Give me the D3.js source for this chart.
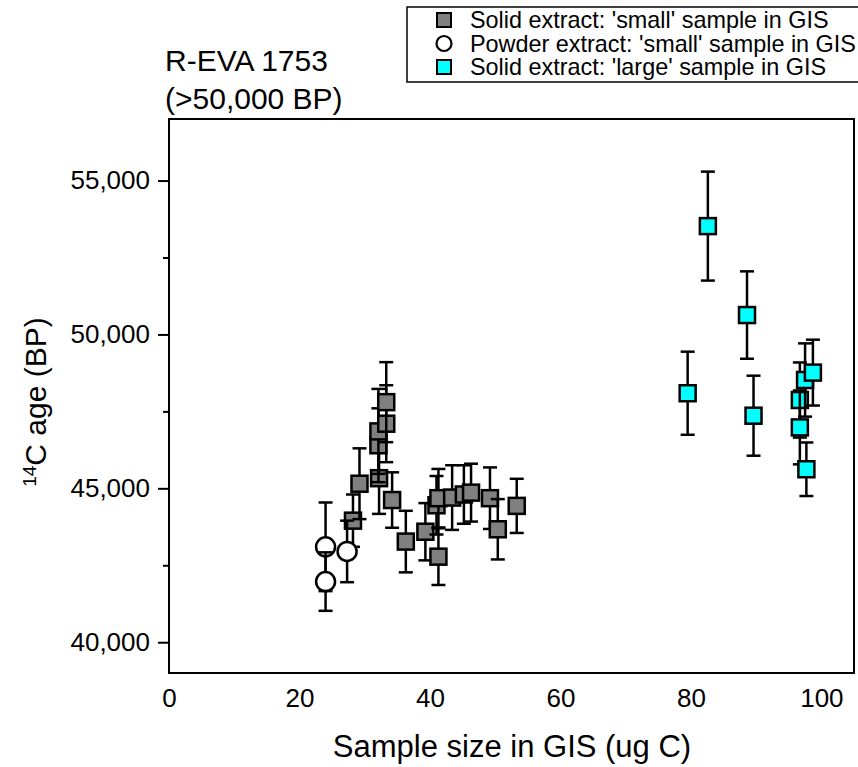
<!DOCTYPE html>
<html>
<head>
<meta charset="utf-8">
<script src="https://cdn.jsdelivr.net/npm/d3@7"></script>
<style>
  body { margin: 0; background: #fff; }
  svg text { font-family: "Liberation Sans", Arial, sans-serif; fill: #000; }
</style>
</head>
<body>
<svg id="chart" width="858" height="767"></svg>
<script>
// ---- data ----
const solidSmallX   = [28.2, 29.2, 32.2, 32.1, 32.1, 33.3, 33.3, 34.2, 36.3, 39.3, 41.0, 41.3, 41.3, 43.4, 45.2, 46.3, 49.2, 50.4, 53.3];
const solidSmallY   = [43950, 45150, 45330, 46400, 46850, 47100, 47800, 44620, 43270, 43590, 44450, 44680, 42780, 44700, 44800, 44860, 44680, 43670, 44430];
const solidSmallErr = [850, 1150, 1160, 1200, 1380, 1250, 1300, 900, 1000, 930, 950, 950, 920, 1050, 950, 940, 1000, 980, 880];

const powderX   = [24, 24, 27.3];
const powderY   = [43100, 41970, 42950];
const powderErr = [1440, 950, 1000];

const largeX   = [79.5, 82.6, 88.6, 89.6, 96.7, 96.7, 97.5, 97.7, 98.7];
const largeY   = [48090, 53520, 50630, 47360, 47870, 46980, 48520, 45620, 48760];
const largeErr = [1350, 1770, 1420, 1300, 1220, 1200, 1190, 870, 1070];

const xTicks = [0, 20, 40, 60, 80, 100];
const yTicks = [40000, 45000, 50000, 55000];
const yMinorTicks = [42500, 47500, 52500];

const seriesNames = ["Solid extract: 'small' sample in GIS",
                     "Powder extract: 'small' sample in GIS",
                     "Solid extract: 'large' sample in GIS"];
const titleLines = ["R-EVA 1753", "(>50,000 BP)"];

// ---- layout ----
const svg = d3.select("#chart");
const L = 169, R = 854, T = 119, B = 673;
const x = d3.scaleLinear().domain([0, 105]).range([L, R]);
const y = d3.scaleLinear().domain([39000, 57000]).range([B, T]);

// frame
svg.append("rect").attr("x", L).attr("y", T).attr("width", R - L).attr("height", B - T)
  .attr("fill", "none").attr("stroke", "#000").attr("stroke-width", 2);

// y axis ticks
const yAxis = d3.axisLeft(y).tickValues(yTicks).tickSize(11).tickPadding(8)
  .tickFormat(d3.format(","));
const gy = svg.append("g").attr("transform", `translate(${L},0)`).call(yAxis);
gy.select(".domain").remove();
gy.selectAll(".tick line").attr("stroke", "#000").attr("stroke-width", 2);
gy.selectAll(".tick text").attr("font-size", 26).attr("font-family", "Liberation Sans, Arial, sans-serif");
const gym = svg.append("g").attr("transform", `translate(${L},0)`)
  .call(d3.axisLeft(y).tickValues(yMinorTicks).tickSize(6).tickFormat(""));
gym.select(".domain").remove();
gym.selectAll(".tick line").attr("stroke", "#000").attr("stroke-width", 2);

// x axis labels (no tick marks)
const gx = svg.append("g").attr("transform", `translate(0,${B})`)
  .call(d3.axisBottom(x).tickValues(xTicks).tickSize(0).tickPadding(16));
gx.select(".domain").remove();
gx.selectAll(".tick text").attr("font-size", 26).attr("font-family", "Liberation Sans, Arial, sans-serif");

// axis titles
svg.append("text").attr("x", 512).attr("y", 757).attr("text-anchor", "middle")
  .attr("font-size", 31).text("Sample size in GIS (ug C)");
const yl = svg.append("text").attr("transform", `translate(46,${402}) rotate(-90)`)
  .attr("text-anchor", "middle").attr("font-size", 30);
yl.append("tspan").attr("baseline-shift", "super").attr("font-size", 19).text("14");
yl.append("tspan").text("C age (BP)");

// title
svg.append("text").attr("x", 165).attr("y", 71).attr("font-size", 30).text(titleLines[0]);
svg.append("text").attr("x", 165).attr("y", 109).attr("font-size", 30).text(titleLines[1]);

// ---- points ----
function drawSeries(xs, ys, es, shape, fill) {
  const data = xs.map((v, i) => ({ x: v, y: ys[i], e: es[i] }));
  const g = svg.append("g");
  const pts = g.selectAll("g.pt").data(data).join("g").attr("class", "pt");
  const cap = 7;
  pts.append("line").attr("x1", d => x(d.x)).attr("x2", d => x(d.x))
    .attr("y1", d => y(d.y + d.e)).attr("y2", d => y(d.y - d.e));
  pts.append("line").attr("x1", d => x(d.x) - cap).attr("x2", d => x(d.x) + cap)
    .attr("y1", d => y(d.y + d.e)).attr("y2", d => y(d.y + d.e));
  pts.append("line").attr("x1", d => x(d.x) - cap).attr("x2", d => x(d.x) + cap)
    .attr("y1", d => y(d.y - d.e)).attr("y2", d => y(d.y - d.e));
  pts.selectAll("line").attr("stroke", "#000").attr("stroke-width", 2.5);
  if (shape === "square") {
    const s = 16;
    pts.append("rect").attr("x", d => x(d.x) - s / 2).attr("y", d => y(d.y) - s / 2)
      .attr("width", s).attr("height", s).attr("fill", fill)
      .attr("stroke", "#000").attr("stroke-width", 2.5);
  } else {
    pts.append("circle").attr("cx", d => x(d.x)).attr("cy", d => y(d.y)).attr("r", 9.5)
      .attr("fill", fill).attr("stroke", "#000").attr("stroke-width", 2.5);
  }
}
drawSeries(solidSmallX, solidSmallY, solidSmallErr, "square", "#808080");
drawSeries(powderX, powderY, powderErr, "circle", "#ffffff");
drawSeries(largeX, largeY, largeErr, "square", "#00ffff");

// ---- legend ----
const lg = svg.append("g");
lg.append("rect").attr("x", 407).attr("y", 7).attr("width", 470).attr("height", 75)
  .attr("fill", "#fff").attr("stroke", "#000").attr("stroke-width", 1.5);
const rows = [
  { name: seriesNames[0], shape: "square", fill: "#808080" },
  { name: seriesNames[1], shape: "circle", fill: "#ffffff" },
  { name: seriesNames[2], shape: "square", fill: "#00ffff" }
];
rows.forEach((r, i) => {
  const cy = 20 + i * 23.5;
  if (r.shape === "square") {
    lg.append("rect").attr("x", 437).attr("y", cy - 7).attr("width", 14).attr("height", 14)
      .attr("fill", r.fill).attr("stroke", "#000").attr("stroke-width", 2);
  } else {
    lg.append("circle").attr("cx", 444).attr("cy", cy).attr("r", 7.5)
      .attr("fill", r.fill).attr("stroke", "#000").attr("stroke-width", 2.2);
  }
  lg.append("text").attr("x", 470).attr("y", cy + 8).attr("font-size", 23.4).text(r.name);
});
</script>
</body>
</html>
